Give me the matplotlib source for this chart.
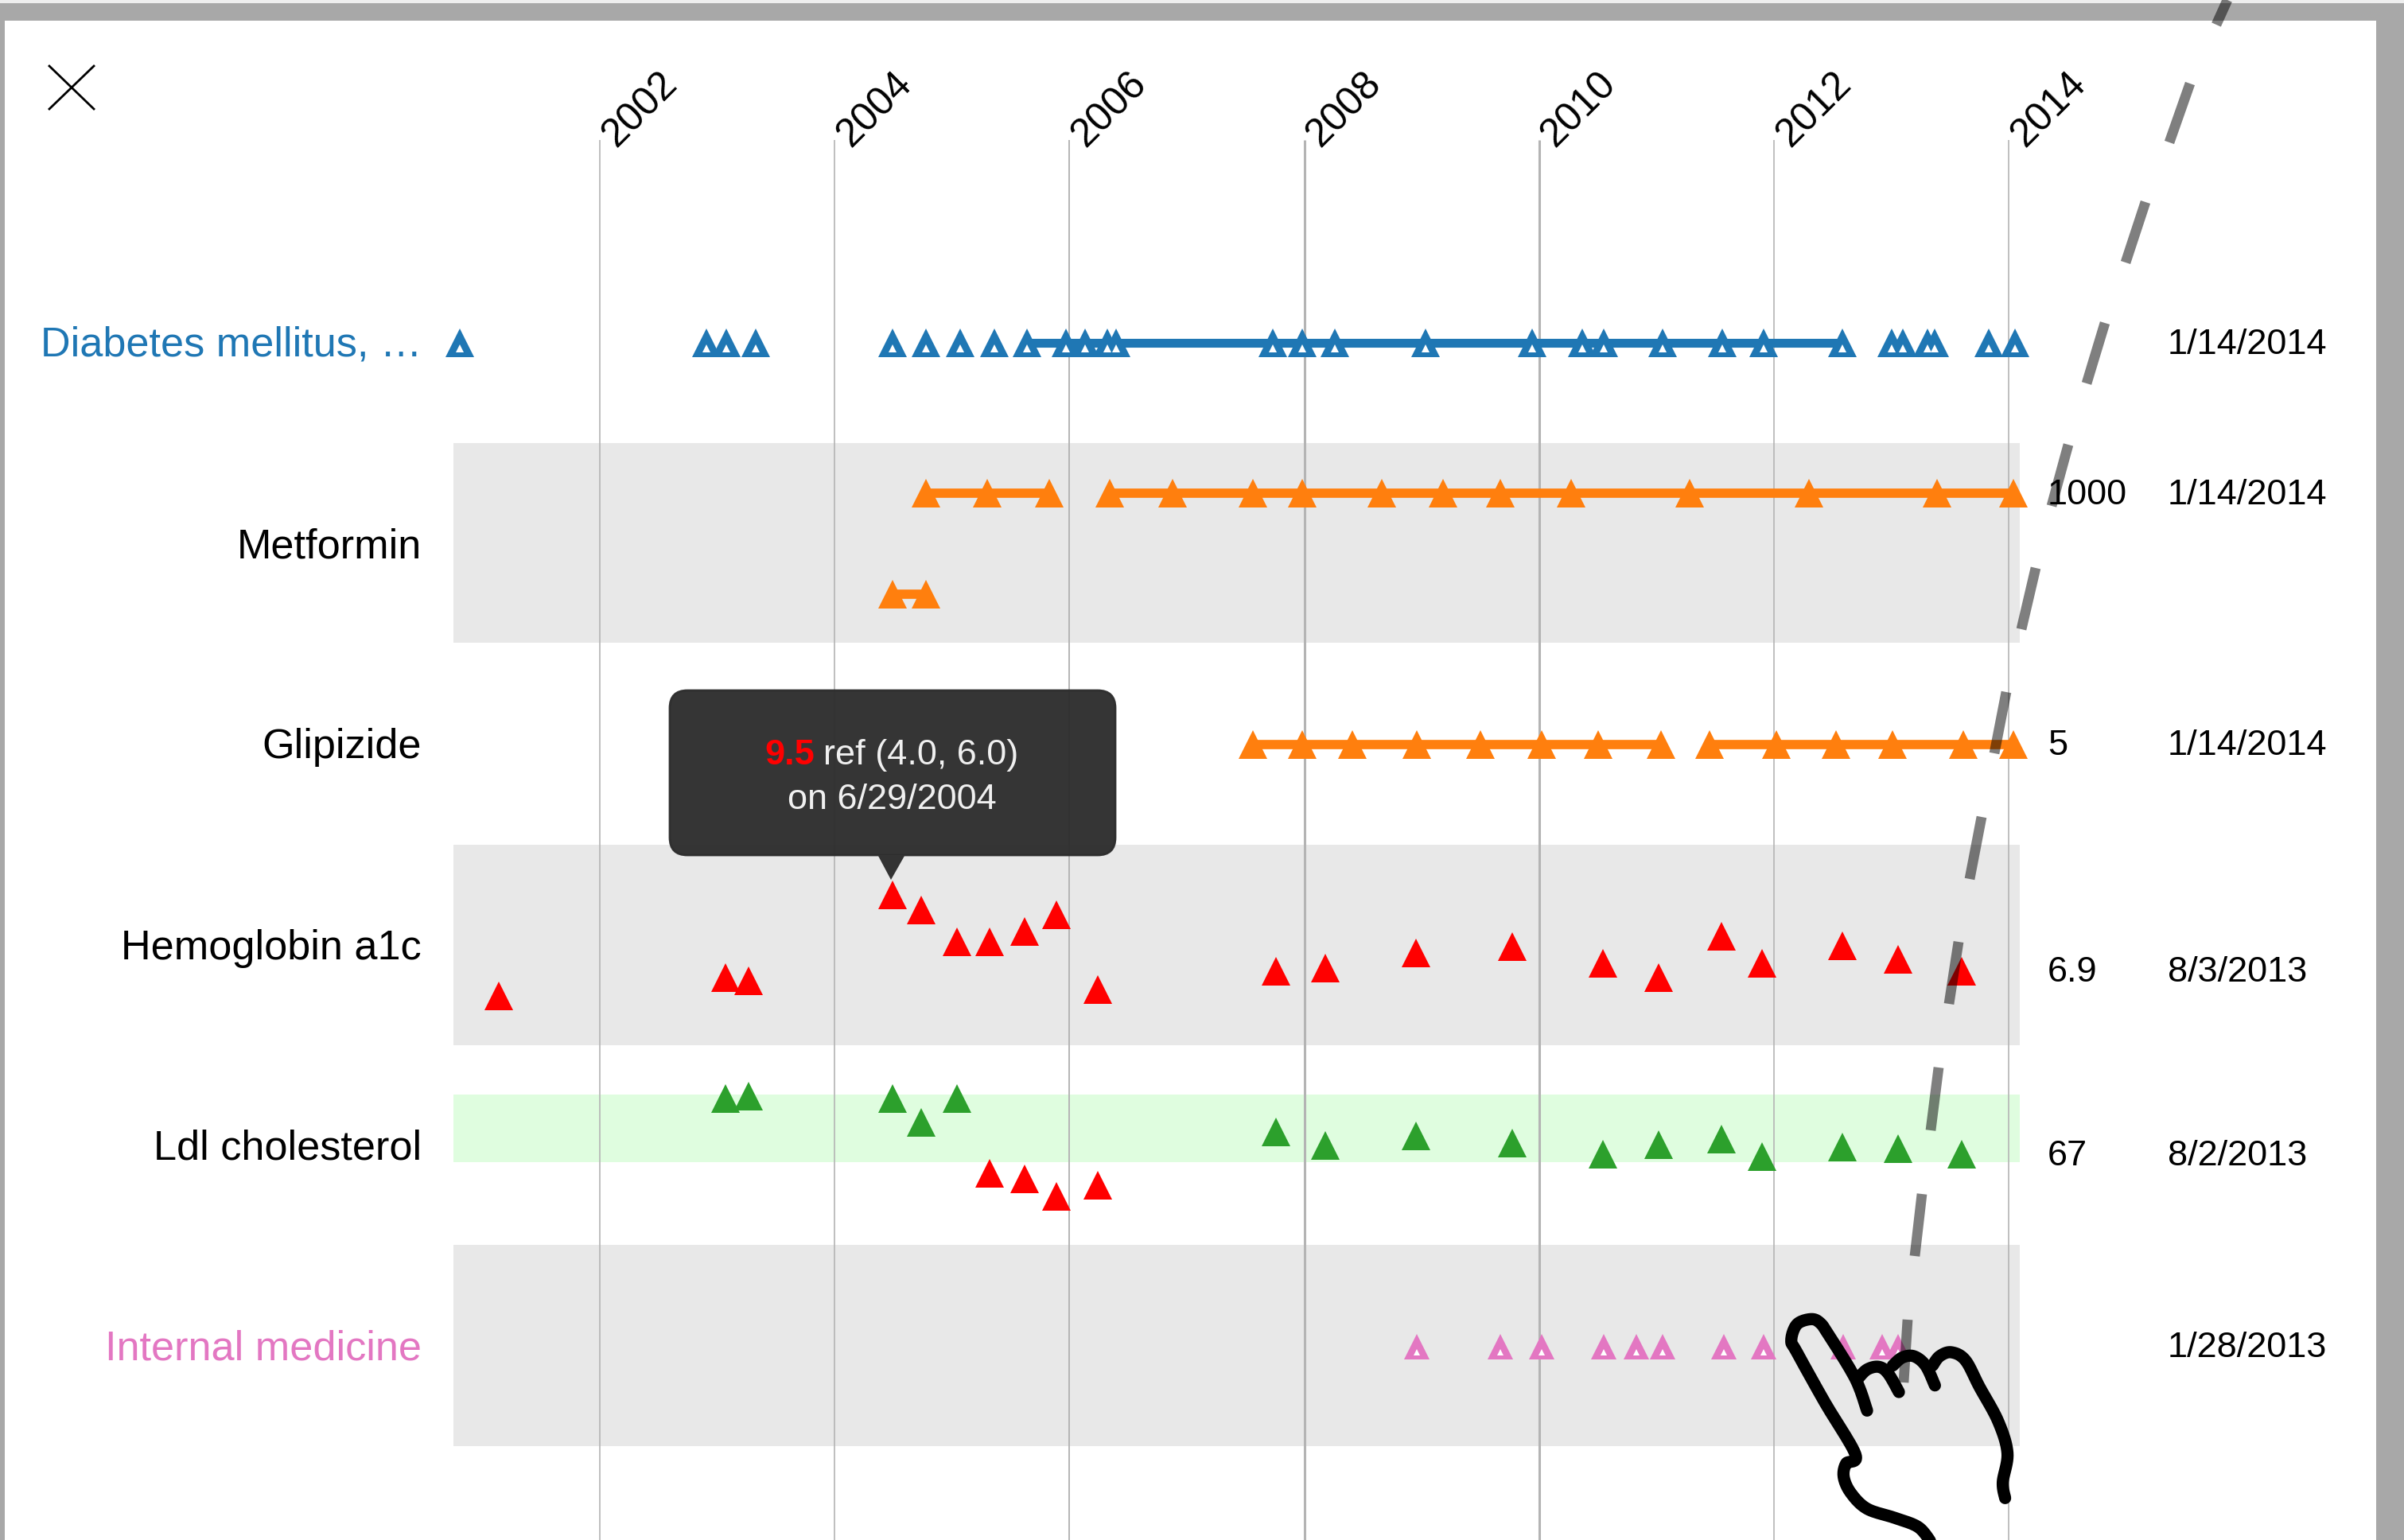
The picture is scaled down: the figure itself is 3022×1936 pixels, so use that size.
import numpy as np
import matplotlib
matplotlib.use("Agg")
import matplotlib.pyplot as plt
import matplotlib.transforms as mtransforms
from matplotlib.patches import FancyBboxPatch, Polygon, Rectangle

plt.rcParams['font.family'] = ['Liberation Sans', 'DejaVu Sans']

W, H = 3022, 1936

grid_years = [2002, 2004, 2006, 2008, 2010, 2012, 2014]
grid_widths = [1.2, 1.2, 1.4, 2.2, 2.2, 1.2, 1.2]

diabetes_dates = [2000.81, 2002.91, 2003.08, 2003.33, 2004.49, 2004.78, 2005.07, 2005.36,
                  2005.64, 2005.97, 2006.13, 2006.32, 2006.40, 2007.73, 2007.98, 2008.26,
                  2009.03, 2009.94, 2010.37, 2010.55, 2011.05, 2011.56, 2011.91, 2012.58,
                  2013.00, 2013.10, 2013.31, 2013.37, 2013.83, 2014.05]
diabetes_span = [2005.64, 2012.58]

metformin_1000_a = [2004.78, 2005.30, 2005.83]
metformin_1000_b = [2006.34, 2006.88, 2007.56, 2007.98, 2008.66, 2009.18, 2009.67,
                    2010.27, 2011.28, 2012.30, 2013.39, 2014.04]
metformin_500 = [2004.49, 2004.78]

glipizide_a = [2007.56, 2007.98, 2008.41, 2008.96, 2009.50, 2010.02, 2010.50, 2011.04]
glipizide_b = [2011.45, 2012.02, 2012.53, 2013.01, 2013.61, 2014.04]

lab_dates = [2003.07, 2003.27, 2004.49, 2004.74, 2005.04, 2005.32, 2005.62, 2005.89,
             2006.24, 2007.76, 2008.18, 2008.95, 2009.77, 2010.54, 2011.02, 2011.55,
             2011.90, 2012.58, 2013.06, 2013.60]
a1c_values = [6.69, 6.58, 9.5, 8.98, 7.89, 7.89, 8.25, 8.82, 6.27, 6.9, 7.0, 7.52,
              7.73, 7.16, 6.69, 8.09, 7.16, 7.78, 7.31, 6.9]
a1c_first_date = 2001.14
a1c_first_value = 6.06
ldl_values = [100, 101.5, 100, 86, 100, 56, 52.5, 42.5, 49, 80.6, 72.5, 78, 74, 67,
              73, 76, 66, 71.5, 70.6, 67]
ldl_low, ldl_high = 62.5, 102.5

visit_dates = [2008.96, 2009.67, 2010.02, 2010.55, 2010.83, 2011.05, 2011.57, 2011.91,
               2012.59, 2012.92, 2013.06]

row_names = ["Diabetes mellitus, \u2026", "Metformin", "Glipizide", "Hemoglobin a1c",
             "Ldl cholesterol", "Internal medicine"]
row_colors = ["#1f77b4", "black", "black", "black", "black", "#e377c2"]
latest_values = ["", "1000", "5", "6.9", "67", ""]
latest_dates = ["1/14/2014", "1/14/2014", "1/14/2014", "8/3/2013", "8/2/2013", "1/28/2013"]

BLUE = "#1f77b4"
ORANGE = "#ff7f0e"
PINK = "#e377c2"
GREEN = "#2ca02c"
RED = "#ff0000"

px_per_year = 147.6
x0 = 2002 - 754 / px_per_year
xlim = (x0, x0 + W / px_per_year)

fig = plt.figure(figsize=(W / 100, H / 100), dpi=100, facecolor='white')

# main axes: years across, pixel rows down
ax = fig.add_axes([0, 0, 1, 1])
ax.set_xlim(*xlim)
ax.set_ylim(H, 0)
ax.axis('off')

band_left, band_right = 2000.75, 2014.095
for top, bottom in [(557, 808), (1062, 1314), (1565, 1818)]:
    ax.fill_between([band_left, band_right], top, bottom, color='#e8e8e8', lw=0, zorder=1)
ax.fill_between([band_left, band_right], 1376, 1461, color='#dffddf', lw=0, zorder=1)

for year, lw in zip(grid_years, grid_widths):
    ax.vlines(year, 176, H, color='#b4b4b4', lw=lw, zorder=2)


def row_axes(top, bottom, v_top, v_bottom):
    # transparent axes over one row so the values go through a real scale
    a = fig.add_axes([0, 1 - bottom / H, 1, (bottom - top) / H])
    a.set_xlim(*xlim)
    a.set_ylim(v_bottom, v_top)
    a.axis('off')
    return a


def tri(a, xs, ys, color, ms=26, line=False):
    a.plot(xs, ys, color=color, marker='^', ms=ms, mew=0, lw=8.4 if line else 0,
           solid_capstyle='butt', clip_on=False, zorder=4)


def holes(a, xs, y, ms=6.5):
    shifted = mtransforms.offset_copy(a.transData, fig, y=-7, units='dots')
    a.plot(xs, [y] * len(xs), ls='none', color='white', marker='^', ms=ms, mew=0,
           transform=shifted, clip_on=False, zorder=5)


# diabetes row
y_diab = 431
ax.plot(diabetes_span, [y_diab, y_diab], color=BLUE, lw=8, solid_capstyle='butt', zorder=3)
tri(ax, diabetes_dates, [y_diab] * len(diabetes_dates), BLUE)
holes(ax, diabetes_dates, y_diab)

# metformin dose levels
ax_met = row_axes(557, 808, 1248, 260)
tri(ax_met, metformin_1000_a, [1000] * 3, ORANGE, line=True)
tri(ax_met, metformin_1000_b, [1000] * len(metformin_1000_b), ORANGE, line=True)
tri(ax_met, metformin_500, [500, 500], ORANGE, line=True)

# glipizide
y_glip = 936
tri(ax, glipizide_a, [y_glip] * len(glipizide_a), ORANGE, line=True)
tri(ax, glipizide_b, [y_glip] * len(glipizide_b), ORANGE, line=True)

# a1c, all out of range
ax_a1c = row_axes(1062, 1314, 11.2, 4.39)
tri(ax_a1c, [a1c_first_date] + lab_dates, [a1c_first_value] + a1c_values, RED)

# ldl, coloured by the reference band
ax_ldl = row_axes(1376, 1461, ldl_high, ldl_low)
for d, v in zip(lab_dates, ldl_values):
    tri(ax_ldl, [d], [v], GREEN if ldl_low <= v else RED)

# internal medicine visits
y_visit = 1693
tri(ax, visit_dates, [y_visit] * len(visit_dates), PINK, ms=23)
holes(ax, visit_dates, y_visit, ms=6)

# overlay in pixels for the text, tooltip and the sketched hand
ov = fig.add_axes([0, 0, 1, 1])
ov.set_xlim(0, W)
ov.set_ylim(H, 0)
ov.axis('off')

ov.add_patch(Rectangle((0, 0), W, 4, color='#eeeeee', lw=0))
ov.add_patch(Rectangle((0, 4), W, 22, color='#a8a8a8', lw=0))
ov.add_patch(Rectangle((0, 4), 6, H, color='#a8a8a8', lw=0))
ov.add_patch(Rectangle((2987, 4), W - 2987, H, color='#a8a8a8', lw=0))

ov.plot([62, 118], [83, 137], color='black', lw=2)
ov.plot([118, 62], [83, 137], color='black', lw=2)

for year in grid_years:
    px = (year - x0) * px_per_year
    ov.text(px + 20, 186, str(year), rotation=45, rotation_mode='anchor', ha='left', va='baseline',
            fontsize=36, color='black')

row_label_y = [429, 682, 934, 1187, 1439, 1691]
value_y = [429, 618, 933, 1218, 1449, 1690]
for name, color, ly, vy, val, date in zip(row_names, row_colors, row_label_y, value_y,
                                          latest_values, latest_dates):
    ov.text(530, ly, name, ha='right', va='center_baseline', fontsize=37.6, color=color)
    if val:
        ov.text(2574, vy, val, ha='left', va='center_baseline', fontsize=32.5, color='black')
    ov.text(2725, vy, date, ha='left', va='center_baseline', fontsize=32.5, color='black')

# tooltip
ov.add_patch(FancyBboxPatch((842, 868), 560, 207, boxstyle='round,pad=0,rounding_size=22',
                            facecolor='#2e2e2e', edgecolor='#2e2e2e', lw=2, alpha=0.97, zorder=5))
ov.add_patch(Polygon([(1104, 1076), (1137, 1076), (1120, 1106)], closed=True,
                     facecolor='#333333', edgecolor='none', zorder=5))
ov.text(961, 945, "9.5", color=RED, fontsize=32.5, ha='left', va='center_baseline', zorder=6,
        fontweight='bold')
ov.text(1035, 945, "ref (4.0, 6.0)", color='#f0f0f0', fontsize=32.5, ha='left',
        va='center_baseline', zorder=6)
ov.text(1121, 1001, "on 6/29/2004", color='#f0f0f0', fontsize=32.5, ha='center',
        va='center_baseline', zorder=6)

# dashed sketch line
dash_ends = [((2800, 0), (2786, 31)), ((2753, 105), (2727, 179)), ((2697, 254), (2672, 330)),
             ((2646, 406), (2623, 482)), ((2600, 559), (2579, 636)), ((2559, 714), (2541, 791)),
             ((2522, 870), (2507, 947)), ((2491, 1027), (2476, 1105)), ((2462, 1184), (2450, 1262)),
             ((2437, 1342), (2427, 1421)), ((2416, 1501), (2407, 1579)), ((2398, 1659), (2393, 1738))]
for start, end in dash_ends:
    ov.plot([start[0], end[0]], [start[1], end[1]], color='black', alpha=0.5, lw=9.2,
            solid_capstyle='butt', zorder=7)


def smooth(points, n=12):
    # catmull-rom through the traced points
    p = np.array(points, dtype=float)
    p = np.vstack([p[0], p, p[-1]])
    out = []
    for i in range(1, len(p) - 2):
        for t in np.linspace(0, 1, n, endpoint=False):
            out.append(0.5 * (2 * p[i] + (p[i + 1] - p[i - 1]) * t
                              + (2 * p[i - 1] - 5 * p[i] + 4 * p[i + 1] - p[i + 2]) * t ** 2
                              + (3 * p[i] - p[i - 1] - 3 * p[i + 1] + p[i + 2]) * t ** 3))
    out.append(p[-2])
    return np.array(out)


hand = [
    [(420, 820), (395, 700), (340, 540), (320, 490), (300, 475), (270, 495), (258, 555), (270, 600),
     (330, 790), (395, 985), (375, 1020), (370, 1070), (385, 1130), (420, 1190), (480, 1225),
     (530, 1260), (558, 1320)],
    [(400, 700), (420, 665), (445, 655), (465, 680), (488, 750)],
    [(475, 650), (495, 620), (520, 615), (545, 650), (565, 725)],
    [(560, 650), (575, 615), (600, 600), (630, 630), (660, 730), (700, 860), (720, 980),
     (710, 1090), (715, 1150)],
]
for stroke in hand:
    s = smooth(stroke)
    ov.plot(2100 + s[:, 0] / 1.7, 1500 + s[:, 1] / 3, color='black', lw=11,
            solid_capstyle='round', solid_joinstyle='round', zorder=8, clip_on=True)

fig.savefig("out.png", dpi=100)
